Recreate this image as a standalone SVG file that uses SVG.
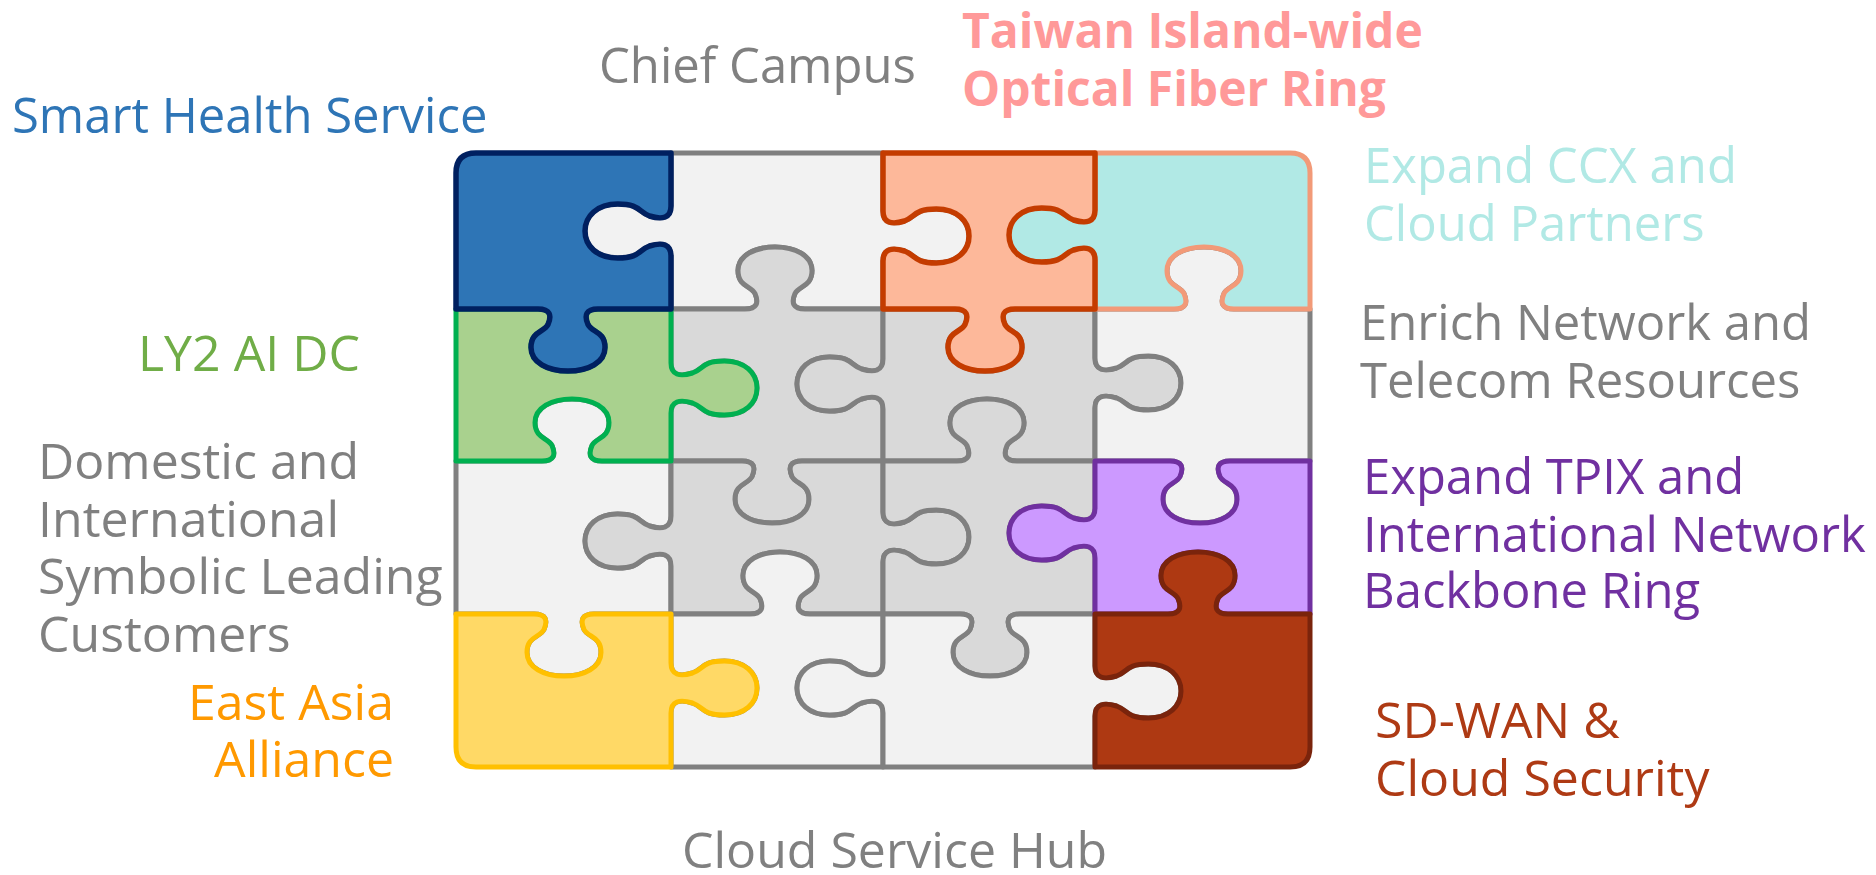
<svg xmlns="http://www.w3.org/2000/svg" width="1876" height="875" viewBox="0 0 1876 875">
<style>
.pc{stroke-width:5;stroke-linejoin:round}
.g1{fill:#F2F2F2;stroke:#808080}
.g2{fill:#D9D9D9;stroke:#808080}
.blue{fill:#2E75B6;stroke:#002060;stroke-width:5.5}
.orange{fill:#FDB89A;stroke:#C43C00;stroke-width:5.5}
.cyan{fill:#B1E9E5;stroke:#F29A78}
.green{fill:#A9D18E;stroke:#00B050}
.purple{fill:#CC99FF;stroke:#7030A0}
.dred{fill:#AE3912;stroke:#7A240C}
.yellow{fill:#FFD966;stroke:#FFC000}
text{font-family:"Open Sans","Noto Sans","Liberation Sans",sans-serif;font-size:50px}
.t-gray{fill:#808080}
.s49{font-size:49px}
.bold48{font-size:48px;font-weight:bold;fill:#FF9999}
</style>
<rect width="1876" height="875" fill="#FFFFFF"/>
<g id="puzzle">
<g id="piece-0-1"><path class="pc g1" d="M671,153 L883,153 L883,211 c0,12 8.6,14 21.5,10 c11.2,-4 9.5,-12 31.8,-12 c20.6,0 32.7,12.2 32.7,27 c0,14.9 -12,27 -32.7,27 c-22.4,0 -20.6,-8 -31.8,-12 c-12.9,-4 -21.5,-2 -21.5,10 L883,309 L805,309 c-12,0 -14,-6.2 -10,-15.5 c4,-8.1 17,-6.8 17,-22.9 c0,-14.9 -16.6,-23.6 -37,-23.6 c-20.4,0 -37,8.7 -37,23.6 c0,16.1 13,14.9 17,22.9 c4,9.3 2,15.5 -10,15.5 L671,309 L671,256 c0,-12 -8.6,-14 -21.5,-10 c-11.2,4 -9.5,12 -31.8,12 c-20.6,0 -32.7,-12.2 -32.7,-27 c0,-14.9 12,-27 32.7,-27 c22.4,0 20.6,8 31.8,12 c12.9,4 21.5,2 21.5,-10 Z"/></g>
<g id="piece-1-1"><path class="pc g2" d="M671,309 L745,309 c12,0 14,-6.2 10,-15.5 c-4,-8.1 -17,-6.8 -17,-22.9 c0,-14.9 16.6,-23.6 37,-23.6 c20.4,0 37,8.7 37,23.6 c0,16.1 -13,14.9 -17,22.9 c-4,9.3 -2,15.5 10,15.5 L883,309 L883,359 c0,12 -8.6,14 -21.5,10 c-11.2,-4 -9.5,-12 -31.8,-12 c-20.6,0 -32.7,12.2 -32.7,27 c0,14.9 12,27 32.7,27 c22.4,0 20.6,-8 31.8,-12 c12.9,-4 21.5,-2 21.5,10 L883,461 L802,461 c-12,0 -14,6.2 -10,15.5 c4,8.1 17,6.8 17,22.9 c0,14.9 -16.6,23.6 -37,23.6 c-20.4,0 -37,-8.7 -37,-23.6 c0,-16.1 13,-14.9 17,-22.9 c4,-9.3 2,-15.5 -10,-15.5 L671,461 L671,413 c0,-12 8.6,-14 21.5,-10 c11.2,4 9.5,12 31.8,12 c20.6,0 32.7,-12.2 32.7,-27 c0,-14.9 -12,-27 -32.7,-27 c-22.4,0 -20.6,8 -31.8,12 c-12.9,4 -21.5,2 -21.5,-10 Z"/></g>
<g id="piece-1-2"><path class="pc g2" d="M883,309 L955,309 c12,0 14,6.2 10,15.5 c-4,8.1 -17,6.8 -17,22.9 c0,14.9 16.6,23.6 37,23.6 c20.4,0 37,-8.7 37,-23.6 c0,-16.1 -13,-14.9 -17,-22.9 c-4,-9.3 -2,-15.5 10,-15.5 L1095,309 L1095,358 c0,12 8.6,14 21.5,10 c11.2,-4 9.5,-12 31.8,-12 c20.6,0 32.7,12.2 32.7,27 c0,14.9 -12,27 -32.7,27 c-22.4,0 -20.6,-8 -31.8,-12 c-12.9,-4 -21.5,-2 -21.5,10 L1095,461 L1017,461 c-12,0 -14,-6.2 -10,-15.5 c4,-8.1 17,-6.8 17,-22.9 c0,-14.9 -16.6,-23.6 -37,-23.6 c-20.4,0 -37,8.7 -37,23.6 c0,16.1 13,14.9 17,22.9 c4,9.3 2,15.5 -10,15.5 L883,461 L883,409 c0,-12 -8.6,-14 -21.5,-10 c-11.2,4 -9.5,12 -31.8,12 c-20.6,0 -32.7,-12.2 -32.7,-27 c0,-14.9 12,-27 32.7,-27 c22.4,0 20.6,8 31.8,12 c12.9,4 21.5,2 21.5,-10 Z"/></g>
<g id="piece-1-3"><path class="pc g1" d="M1095,309 L1174,309 c12,0 14,-6.2 10,-15.5 c-4,-8.1 -17,-6.8 -17,-22.9 c0,-14.9 16.6,-23.6 37,-23.6 c20.4,0 37,8.7 37,23.6 c0,16.1 -13,14.9 -17,22.9 c-4,9.3 -2,15.5 10,15.5 L1310,309 L1310,461 L1230,461 c-12,0 -14,6.2 -10,15.5 c4,8.1 17,6.8 17,22.9 c0,14.9 -16.6,23.6 -37,23.6 c-20.4,0 -37,-8.7 -37,-23.6 c0,-16.1 13,-14.9 17,-22.9 c4,-9.3 2,-15.5 -10,-15.5 L1095,461 L1095,408 c0,-12 8.6,-14 21.5,-10 c11.2,4 9.5,12 31.8,12 c20.6,0 32.7,-12.2 32.7,-27 c0,-14.9 -12,-27 -32.7,-27 c-22.4,0 -20.6,8 -31.8,12 c-12.9,4 -21.5,2 -21.5,-10 Z"/></g>
<g id="piece-2-0"><path class="pc g1" d="M456,461 L542,461 c12,0 14,-6.2 10,-15.5 c-4,-8.1 -17,-6.8 -17,-22.9 c0,-14.9 16.6,-23.6 37,-23.6 c20.4,0 37,8.7 37,23.6 c0,16.1 -13,14.9 -17,22.9 c-4,9.3 -2,15.5 10,15.5 L671,461 L671,516 c0,12 -8.6,14 -21.5,10 c-11.2,-4 -9.5,-12 -31.8,-12 c-20.6,0 -32.7,12.2 -32.7,27 c0,14.9 12,27 32.7,27 c22.4,0 20.6,-8 31.8,-12 c12.9,-4 21.5,-2 21.5,10 L671,614 L594,614 c-12,0 -14,6.2 -10,15.5 c4,8.1 17,6.8 17,22.9 c0,14.9 -16.6,23.6 -37,23.6 c-20.4,0 -37,-8.7 -37,-23.6 c0,-16.1 13,-14.9 17,-22.9 c4,-9.3 2,-15.5 -10,-15.5 L456,614 Z"/></g>
<g id="piece-2-1"><path class="pc g2" d="M671,461 L742,461 c12,0 14,6.2 10,15.5 c-4,8.1 -17,6.8 -17,22.9 c0,14.9 16.6,23.6 37,23.6 c20.4,0 37,-8.7 37,-23.6 c0,-16.1 -13,-14.9 -17,-22.9 c-4,-9.3 -2,-15.5 10,-15.5 L883,461 L883,512 c0,12 8.6,14 21.5,10 c11.2,-4 9.5,-12 31.8,-12 c20.6,0 32.7,12.2 32.7,27 c0,14.9 -12,27 -32.7,27 c-22.4,0 -20.6,-8 -31.8,-12 c-12.9,-4 -21.5,-2 -21.5,10 L883,614 L810,614 c-12,0 -14,-6.2 -10,-15.5 c4,-8.1 17,-6.8 17,-22.9 c0,-14.9 -16.6,-23.6 -37,-23.6 c-20.4,0 -37,8.7 -37,23.6 c0,16.1 13,14.9 17,22.9 c4,9.3 2,15.5 -10,15.5 L671,614 L671,566 c0,-12 -8.6,-14 -21.5,-10 c-11.2,4 -9.5,12 -31.8,12 c-20.6,0 -32.7,-12.2 -32.7,-27 c0,-14.9 12,-27 32.7,-27 c22.4,0 20.6,8 31.8,12 c12.9,4 21.5,2 21.5,-10 Z"/></g>
<g id="piece-2-2"><path class="pc g2" d="M883,461 L957,461 c12,0 14,-6.2 10,-15.5 c-4,-8.1 -17,-6.8 -17,-22.9 c0,-14.9 16.6,-23.6 37,-23.6 c20.4,0 37,8.7 37,23.6 c0,16.1 -13,14.9 -17,22.9 c-4,9.3 -2,15.5 10,15.5 L1095,461 L1095,508 c0,12 -8.6,14 -21.5,10 c-11.2,-4 -9.5,-12 -31.8,-12 c-20.6,0 -32.7,12.2 -32.7,27 c0,14.9 12,27 32.7,27 c22.4,0 20.6,-8 31.8,-12 c12.9,-4 21.5,-2 21.5,10 L1095,614 L1020,614 c-12,0 -14,6.2 -10,15.5 c4,8.1 17,6.8 17,22.9 c0,14.9 -16.6,23.6 -37,23.6 c-20.4,0 -37,-8.7 -37,-23.6 c0,-16.1 13,-14.9 17,-22.9 c4,-9.3 2,-15.5 -10,-15.5 L883,614 L883,562 c0,-12 8.6,-14 21.5,-10 c11.2,4 9.5,12 31.8,12 c20.6,0 32.7,-12.2 32.7,-27 c0,-14.9 -12,-27 -32.7,-27 c-22.4,0 -20.6,8 -31.8,12 c-12.9,4 -21.5,2 -21.5,-10 Z"/></g>
<g id="piece-3-1"><path class="pc g1" d="M671,614 L750,614 c12,0 14,-6.2 10,-15.5 c-4,-8.1 -17,-6.8 -17,-22.9 c0,-14.9 16.6,-23.6 37,-23.6 c20.4,0 37,8.7 37,23.6 c0,16.1 -13,14.9 -17,22.9 c-4,9.3 -2,15.5 10,15.5 L883,614 L883,663 c0,12 -8.6,14 -21.5,10 c-11.2,-4 -9.5,-12 -31.8,-12 c-20.6,0 -32.7,12.2 -32.7,27 c0,14.9 12,27 32.7,27 c22.4,0 20.6,-8 31.8,-12 c12.9,-4 21.5,-2 21.5,10 L883,767 L671,767 L671,713 c0,-12 8.6,-14 21.5,-10 c11.2,4 9.5,12 31.8,12 c20.6,0 32.7,-12.2 32.7,-27 c0,-14.9 -12,-27 -32.7,-27 c-22.4,0 -20.6,8 -31.8,12 c-12.9,4 -21.5,2 -21.5,-10 Z"/></g>
<g id="piece-3-2"><path class="pc g1" d="M883,614 L960,614 c12,0 14,6.2 10,15.5 c-4,8.1 -17,6.8 -17,22.9 c0,14.9 16.6,23.6 37,23.6 c20.4,0 37,-8.7 37,-23.6 c0,-16.1 -13,-14.9 -17,-22.9 c-4,-9.3 -2,-15.5 10,-15.5 L1095,614 L1095,666 c0,12 8.6,14 21.5,10 c11.2,-4 9.5,-12 31.8,-12 c20.6,0 32.7,12.2 32.7,27 c0,14.9 -12,27 -32.7,27 c-22.4,0 -20.6,-8 -31.8,-12 c-12.9,-4 -21.5,-2 -21.5,10 L1095,767 L883,767 L883,713 c0,-12 -8.6,-14 -21.5,-10 c-11.2,4 -9.5,12 -31.8,12 c-20.6,0 -32.7,-12.2 -32.7,-27 c0,-14.9 12,-27 32.7,-27 c22.4,0 20.6,8 31.8,12 c12.9,4 21.5,2 21.5,-10 Z"/></g>
<g id="piece-0-3"><path class="pc cyan" d="M1095,153 L1290,153 Q1310,153 1310,173 L1310,309 L1234,309 c-12,0 -14,-6.2 -10,-15.5 c4,-8.1 17,-6.8 17,-22.9 c0,-14.9 -16.6,-23.6 -37,-23.6 c-20.4,0 -37,8.7 -37,23.6 c0,16.1 13,14.9 17,22.9 c4,9.3 2,15.5 -10,15.5 L1095,309 L1095,260 c0,-12 -8.6,-14 -21.5,-10 c-11.2,4 -9.5,12 -31.8,12 c-20.6,0 -32.7,-12.2 -32.7,-27 c0,-14.9 12,-27 32.7,-27 c22.4,0 20.6,8 31.8,12 c12.9,4 21.5,2 21.5,-10 Z"/></g>
<g id="piece-0-2"><path class="pc orange" d="M883,153 L1095,153 L1095,210 c0,12 -8.6,14 -21.5,10 c-11.2,-4 -9.5,-12 -31.8,-12 c-20.6,0 -32.7,12.2 -32.7,27 c0,14.9 12,27 32.7,27 c22.4,0 20.6,-8 31.8,-12 c12.9,-4 21.5,-2 21.5,10 L1095,309 L1015,309 c-12,0 -14,6.2 -10,15.5 c4,8.1 17,6.8 17,22.9 c0,14.9 -16.6,23.6 -37,23.6 c-20.4,0 -37,-8.7 -37,-23.6 c0,-16.1 13,-14.9 17,-22.9 c4,-9.3 2,-15.5 -10,-15.5 L883,309 L883,261 c0,-12 8.6,-14 21.5,-10 c11.2,4 9.5,12 31.8,12 c20.6,0 32.7,-12.2 32.7,-27 c0,-14.9 -12,-27 -32.7,-27 c-22.4,0 -20.6,8 -31.8,12 c-12.9,4 -21.5,2 -21.5,-10 Z"/></g>
<g id="piece-1-0"><path class="pc green" d="M456,309 L538,309 c12,0 14,6.2 10,15.5 c-4,8.1 -17,6.8 -17,22.9 c0,14.9 16.6,23.6 37,23.6 c20.4,0 37,-8.7 37,-23.6 c0,-16.1 -13,-14.9 -17,-22.9 c-4,-9.3 -2,-15.5 10,-15.5 L671,309 L671,363 c0,12 8.6,14 21.5,10 c11.2,-4 9.5,-12 31.8,-12 c20.6,0 32.7,12.2 32.7,27 c0,14.9 -12,27 -32.7,27 c-22.4,0 -20.6,-8 -31.8,-12 c-12.9,-4 -21.5,-2 -21.5,10 L671,461 L602,461 c-12,0 -14,-6.2 -10,-15.5 c4,-8.1 17,-6.8 17,-22.9 c0,-14.9 -16.6,-23.6 -37,-23.6 c-20.4,0 -37,8.7 -37,23.6 c0,16.1 13,14.9 17,22.9 c4,9.3 2,15.5 -10,15.5 L456,461 Z"/></g>
<g id="piece-0-0"><path class="pc blue" d="M456,173 Q456,153 476,153 L671,153 L671,206 c0,12 -8.6,14 -21.5,10 c-11.2,-4 -9.5,-12 -31.8,-12 c-20.6,0 -32.7,12.2 -32.7,27 c0,14.9 12,27 32.7,27 c22.4,0 20.6,-8 31.8,-12 c12.9,-4 21.5,-2 21.5,10 L671,309 L598,309 c-12,0 -14,6.2 -10,15.5 c4,8.1 17,6.8 17,22.9 c0,14.9 -16.6,23.6 -37,23.6 c-20.4,0 -37,-8.7 -37,-23.6 c0,-16.1 13,-14.9 17,-22.9 c4,-9.3 2,-15.5 -10,-15.5 L456,309 Z"/></g>
<g id="piece-2-3"><path class="pc purple" d="M1095,461 L1170,461 c12,0 14,6.2 10,15.5 c-4,8.1 -17,6.8 -17,22.9 c0,14.9 16.6,23.6 37,23.6 c20.4,0 37,-8.7 37,-23.6 c0,-16.1 -13,-14.9 -17,-22.9 c-4,-9.3 -2,-15.5 10,-15.5 L1310,461 L1310,614 L1228,614 c-12,0 -14,-6.2 -10,-15.5 c4,-8.1 17,-6.8 17,-22.9 c0,-14.9 -16.6,-23.6 -37,-23.6 c-20.4,0 -37,8.7 -37,23.6 c0,16.1 13,14.9 17,22.9 c4,9.3 2,15.5 -10,15.5 L1095,614 L1095,558 c0,-12 -8.6,-14 -21.5,-10 c-11.2,4 -9.5,12 -31.8,12 c-20.6,0 -32.7,-12.2 -32.7,-27 c0,-14.9 12,-27 32.7,-27 c22.4,0 20.6,8 31.8,12 c12.9,4 21.5,2 21.5,-10 Z"/></g>
<g id="piece-3-3"><path class="pc dred" d="M1095,614 L1168,614 c12,0 14,-6.2 10,-15.5 c-4,-8.1 -17,-6.8 -17,-22.9 c0,-14.9 16.6,-23.6 37,-23.6 c20.4,0 37,8.7 37,23.6 c0,16.1 -13,14.9 -17,22.9 c-4,9.3 -2,15.5 10,15.5 L1310,614 L1310,747 Q1310,767 1290,767 L1095,767 L1095,716 c0,-12 8.6,-14 21.5,-10 c11.2,4 9.5,12 31.8,12 c20.6,0 32.7,-12.2 32.7,-27 c0,-14.9 -12,-27 -32.7,-27 c-22.4,0 -20.6,8 -31.8,12 c-12.9,4 -21.5,2 -21.5,-10 Z"/></g>
<g id="piece-3-0"><path class="pc yellow" d="M456,614 L534,614 c12,0 14,6.2 10,15.5 c-4,8.1 -17,6.8 -17,22.9 c0,14.9 16.6,23.6 37,23.6 c20.4,0 37,-8.7 37,-23.6 c0,-16.1 -13,-14.9 -17,-22.9 c-4,-9.3 -2,-15.5 10,-15.5 L671,614 L671,663 c0,12 8.6,14 21.5,10 c11.2,-4 9.5,-12 31.8,-12 c20.6,0 32.7,12.2 32.7,27 c0,14.9 -12,27 -32.7,27 c-22.4,0 -20.6,-8 -31.8,-12 c-12.9,-4 -21.5,-2 -21.5,10 L671,767 L476,767 Q456,767 456,747 Z"/></g>
</g>
<g id="labels">
<g id="label-smart-health"><text x="12" y="133" fill="#2E75B6" class="s49">Smart Health Service</text></g>
<g id="label-chief-campus"><text x="599" y="83" class="t-gray s49">Chief Campus</text></g>
<g id="label-taiwan-ring"><text x="962" y="48" class="bold48">Taiwan Island-wide</text><text x="962" y="106" class="bold48">Optical Fiber Ring</text></g>
<g id="label-ccx"><text x="1364" y="183" fill="#B1E9E5" class="s49">Expand CCX and</text><text x="1364" y="241" fill="#B1E9E5" class="s49">Cloud Partners</text></g>
<g id="label-enrich"><text x="1360" y="340" class="t-gray s49">Enrich Network and</text><text x="1360" y="398" class="t-gray s49">Telecom Resources</text></g>
<g id="label-ly2"><text x="138" y="371" fill="#70AD47">LY2 AI DC</text></g>
<g id="label-domestic"><text x="38" y="479" class="t-gray">Domestic and</text><text x="38" y="537" class="t-gray">International</text><text x="38" y="594" class="t-gray">Symbolic Leading</text><text x="38" y="652" class="t-gray">Customers</text></g>
<g id="label-east-asia"><text x="394" y="720" fill="#FF9900" text-anchor="end">East Asia</text><text x="394" y="777" fill="#FF9900" text-anchor="end">Alliance</text></g>
<g id="label-tpix"><text x="1363" y="494" fill="#7030A0" class="s49">Expand TPIX and</text><text x="1363" y="552" fill="#7030A0" class="s49">International Network</text><text x="1363" y="608" fill="#7030A0" class="s49">Backbone Ring</text></g>
<g id="label-sdwan"><text x="1375" y="738" fill="#AE3A14">SD-WAN &amp;</text><text x="1375" y="796" fill="#AE3A14">Cloud Security</text></g>
<g id="label-hub"><text x="682" y="868" class="t-gray">Cloud Service Hub</text></g>
</g>
</svg>
